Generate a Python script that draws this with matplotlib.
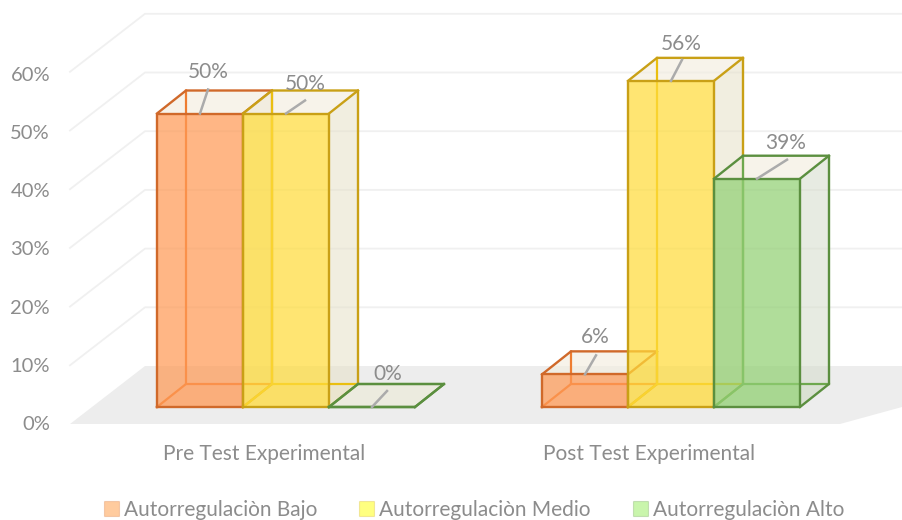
import matplotlib
matplotlib.use('Agg')
import matplotlib.pyplot as plt
from matplotlib.patches import Polygon, Patch

# Data
categories = ['Pre Test Experimental', 'Post Test Experimental']
series_names = ['Autorregulaciòn Bajo', 'Autorregulaciòn Medio', 'Autorregulaciòn Alto']
bajo = [50, 5.56]
medio = [50, 55.56]
alto = [0, 38.89]
y_ticks = [0, 10, 20, 30, 40, 50, 60]

# 3D look (pixels, the figure is 902x520 at dpi 100)
PX = 5.87            # pixels per percent
BASE = 407           # pixel row of the 0% front edge
BAR_W = 86
DX, DY = 29, 23      # depth of a bar
group_left = [157, 542]
front = ['#FF9A56', '#FFDC3C', '#92D074']
edge = ['#D0692A', '#C9A016', '#5B8F3F']
inner = ['#EE7D31', '#EABF10', '#6EA84E']
swatch = ['#FFCB9E', '#FFFF80', '#C9F5AC']
GREY = '#8C8C8C'
# leader end and label centre, offset from the middle of the bar top
leader = [[(8, 24), (19, 13), (15, 16)], [(11, 19), (11, 21), (30, 19)]]
label_off = [[(8, 42), (19, 30), (16, 33)], [(10, 37), (10, 37), (29, 36)]]

plt.rcParams['font.family'] = ['Lato', 'DejaVu Sans']


def dy(px):
    return px / PX


fig = plt.figure(figsize=(9.02, 5.2), dpi=100)
ax = fig.add_axes([0, 0, 1, 1])
ax.set_xlim(0, 902)
ax.set_ylim(-dy(520 - BASE), dy(BASE))
ax.axis('off')

# floor and walls
ax.add_patch(Polygon([(70, -dy(17)), (145, dy(41)), (902, dy(41)), (902, dy(0)),
                      (840, -dy(17))], fc='#EDEDED', ec='none', zorder=1))
for t in y_ticks:
    if t > 0:
        ax.plot([70, 145, 902], [t - dy(17), t + dy(41), t + dy(41)],
                color='#F0F0F0', lw=1.3, zorder=1)
    ax.text(50, t * 0.992 - dy(17.5), f'{t}%', ha='right', va='center',
            fontsize=14.5, color=GREY)


def draw_bar(x, val, i, z):
    h = val
    x2 = x + BAR_W
    d = dy(DY)
    # floor, side and top faces
    ax.add_patch(Polygon([(x, 0), (x2, 0), (x2 + DX, d), (x + DX, d)],
                         fc=front[i], alpha=0.12, ec='none', zorder=z))
    ax.add_patch(Polygon([(x2, 0), (x2 + DX, d), (x2 + DX, h + d), (x2, h)],
                         fc='#E6E1C8' if i < 2 else '#D5DCCB', alpha=0.55, ec='none', zorder=z))
    ax.add_patch(Polygon([(x, h), (x2, h), (x2 + DX, h + d), (x + DX, h + d)],
                         fc='#F3EDE0', alpha=0.65, ec='none', zorder=z))
    # hidden edges
    ax.plot([x, x + DX, x + DX], [0, d, h + d], color=inner[i], lw=1.6, zorder=z)
    ax.plot([x + DX, x2 + DX], [d, d], color=inner[i], lw=1.6, zorder=z)
    # front face
    ax.add_patch(Polygon([(x, 0), (x2, 0), (x2, h), (x, h)],
                         fc=front[i], alpha=0.72, ec='none', zorder=z))
    # outline
    ax.plot([x, x2, x2, x, x], [0, 0, h, h, 0], color=edge[i], lw=1.7, zorder=z + 0.1)
    ax.plot([x, x + DX, x2 + DX, x2 + DX, x2], [h, h + d, h + d, d, 0],
            color=edge[i], lw=1.7, zorder=z + 0.1)
    ax.plot([x2, x2 + DX], [h, h + d], color=edge[i], lw=1.7, zorder=z + 0.1)


values = [bajo, medio, alto]
for g, left in enumerate(group_left):
    for i, vals in enumerate(values):
        x = left + i * BAR_W
        draw_bar(x, vals[g], i, 3 + i)
        xm = x + BAR_W / 2
        lx, ly = leader[g][i]
        ax.plot([xm, xm + lx], [vals[g], vals[g] + dy(ly)], color='#ABABAB', lw=1.8, zorder=10)
        tx, ty = label_off[g][i]
        ax.text(xm + tx, vals[g] + dy(ty), f'{vals[g]:.0f}%', ha='center', va='center',
                fontsize=15, color=GREY, zorder=11)
    ax.text(left + 107, -dy(47), categories[g], ha='center', va='center',
            fontsize=15, color=GREY)

handles = [Patch(fc=swatch[i], ec=edge[i] + '40', lw=0.8, label=series_names[i]) for i in range(3)]
leg = fig.legend(handles=handles, ncol=3, frameon=False, loc='center',
                 bbox_to_anchor=(474 / 902, 1 - 510 / 520), fontsize=15,
                 labelcolor=GREY, handlelength=0.72, handleheight=0.72,
                 handletextpad=0.25, columnspacing=2.0, borderpad=0)

fig.savefig('out.png', dpi=100)
